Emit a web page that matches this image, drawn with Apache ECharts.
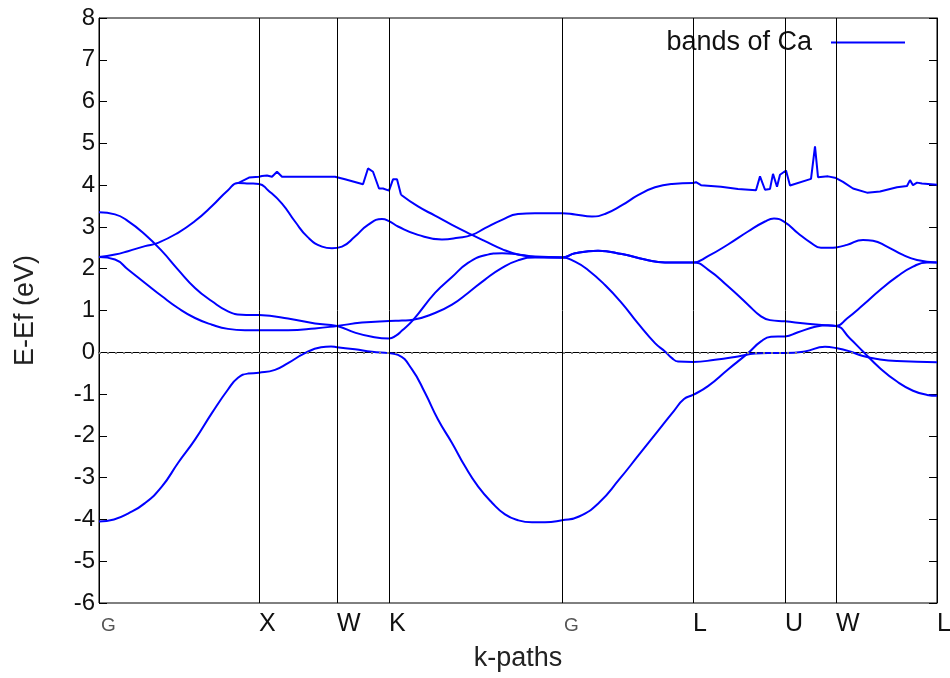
<!DOCTYPE html>
<html>
<head>
<meta charset="utf-8">
<script src="https://cdn.jsdelivr.net/npm/echarts@6/dist/echarts.min.js"></script>
<style>
html,body{margin:0;padding:0;background:#fff;overflow:hidden;}
#chart{width:950px;height:678px;}
</style>
</head>
<body>
<div id="chart"></div>
<script>
// high-symmetry points along the k-path (path-length units)
var kPos = [0, 160, 238, 290, 463, 594, 686, 737, 838];
var kLabels = ['G', 'X', 'W', 'K', 'G', 'L', 'U', 'W', 'L'];
var yTicks = [-6, -5, -4, -3, -2, -1, 0, 1, 2, 3, 4, 5, 6, 7, 8];

// band curves: [k, E-Ef (eV)]
var bandA = [[0,-4.05],[15,-4.0],[29,-3.86],[46,-3.61],[63,-3.21],[79,-2.65],[96,-2.09],[113,-1.45],[129,-0.89],[139,-0.61],[149,-0.51],[160,-0.49],
  [176,-0.42],[189,-0.26],[206,-0.02],[222,0.12],[232,0.14],[238,0.12],[256,0.07],[273,0.01],[290,-0.02],
  [299,-0.06],[313,-0.41],[326,-0.97],[339,-1.61],[353,-2.17],[366,-2.73],[379,-3.21],[393,-3.60],[406,-3.88],[419,-4.02],[433,-4.07],[446,-4.07],[463,-4.02],
  [480,-3.93],[500,-3.6],[520,-3.05],[540,-2.45],[560,-1.85],[575,-1.40],[585,-1.12],[594,-1.02],
  [609,-0.81],[629,-0.41],[649,-0.02],[662,0.26],[672,0.37],[686,0.38],[699,0.48],[716,0.61],[729,0.65],[737,0.63],
  [748,0.81],[764,1.13],[781,1.49],[798,1.81],[814,2.05],[828,2.15],[838,2.15]];

var bandB = [[0,2.28],[16,2.22],[29,1.98],[46,1.66],[63,1.34],[79,1.06],[96,0.82],[113,0.66],[129,0.56],[146,0.53],[160,0.53],
  [189,0.53],[216,0.57],[238,0.63],[263,0.71],[290,0.75],
  [303,0.76],[314,0.78],[336,0.94],[353,1.14],[369,1.42],[386,1.74],[403,2.02],[419,2.20],[436,2.27],[463,2.27],
  [476,2.17],[489,1.97],[506,1.61],[523,1.17],[539,0.69],[556,0.22],[566,0.02],[573,-0.14],[579,-0.22],[594,-0.23],
  [616,-0.18],[639,-0.10],[656,-0.03],[669,-0.02],[686,-0.02],[706,0.02],[726,0.13],[737,0.10],
  [751,0.02],[764,-0.09],[781,-0.17],[798,-0.21],[838,-0.24]];

var bandC = [[0,3.35],[16,3.30],[29,3.14],[46,2.82],[63,2.42],[79,1.98],[96,1.54],[113,1.22],[129,0.98],[143,0.90],[160,0.89],
  [189,0.81],[216,0.69],[238,0.63],[256,0.47],[273,0.37],[290,0.33],
  [297,0.40],[303,0.52],[314,0.77],[336,1.42],[353,1.80],[369,2.14],[386,2.32],[403,2.37],[419,2.34],[436,2.29],[463,2.27],
  [476,2.37],[499,2.43],[523,2.35],[546,2.22],[566,2.15],[594,2.15],
  [609,2.30],[629,2.58],[649,2.89],[666,3.13],[675,3.20],[686,3.11],[699,2.85],[712,2.62],[722,2.50],[731,2.50],[737,2.51],
  [748,2.57],[764,2.69],[774,2.67],[788,2.53],[804,2.33],[818,2.21],[838,2.15]];

var bandD = [[0,2.28],[16,2.34],[29,2.42],[46,2.54],[59,2.62],[79,2.86],[96,3.14],[113,3.50],[129,3.88],[139,4.05],[150,4.04],[160,4.03],
  [169,3.88],[183,3.56],[196,3.13],[209,2.75],[223,2.53],[233,2.49],[243,2.53],[256,2.77],[269,3.05],[283,3.19],[290,3.14],
  [299,3.01],[319,2.81],[343,2.70],[359,2.74],[373,2.81],[386,2.97],[403,3.17],[419,3.31],[436,3.33],[463,3.33],
  [476,3.30],[493,3.25],[506,3.31],[523,3.52],[539,3.76],[556,3.95],[573,4.03],[594,4.05]];

var bandTopL = [[594,4.05],[597,4.07],[602,4.00],[622,3.96],[639,3.91],[657,3.88],[661,4.21],[666,3.89],[671,3.91],[674,4.27],[678,3.96],[681,4.25],[687,4.35],[691,3.99],[712,4.15],[716,4.93],[719,4.19],[729,4.21],[737,4.17],
  [744,4.08],[754,3.92],[768,3.82],[781,3.85],[798,3.95],[808,3.98],[811,4.12],[814,4.00],[818,4.06],[823,4.04],[838,4.01]];

var bandTopX = [[139,4.05],[150,4.18],[160,4.20],[163,4.22],[168,4.23],[173,4.20],[178,4.32],[183,4.20],[236,4.20],[246,4.14],[264,4.02],[269,4.40],[274,4.32],[280,3.92],[284,3.92],[290,3.87],[294,4.14],[298,4.14],[302,3.77]];

var bandE = [[302,3.77],[319,3.49],[336,3.27],[353,3.05],[373,2.81],[386,2.66],[403,2.47],[419,2.34],[436,2.28],[463,2.27],
  [476,2.37],[499,2.43],[523,2.35],[546,2.22],[566,2.15],[594,2.15],
  [609,1.98],[629,1.58],[649,1.14],[662,0.86],[671,0.77],[686,0.74],[706,0.69],[729,0.64],[737,0.63],
  [751,0.33],[764,0.02],[781,-0.38],[798,-0.70],[814,-0.92],[828,-1.02],[838,-1.04]];

var smoothBands = [bandA, bandB, bandC, bandD, bandE];
var sharpBands = [bandTopL, bandTopX];

var NAME = 'bands of Ca';
var FONT = "'Liberation Sans', Arial, sans-serif";
var BLUE = '#0000ff';

var chart = echarts.init(document.getElementById('chart'), null, {renderer: 'canvas', width: 950, height: 678});

var series = [];
smoothBands.forEach(function (b) {
  series.push({name: NAME, type: 'line', data: b, symbol: 'none', showSymbol: false, smooth: 0.5,
    lineStyle: {color: BLUE, width: 2}, itemStyle: {color: BLUE}, z: 3, silent: true});
});
sharpBands.forEach(function (b) {
  series.push({name: NAME, type: 'line', data: b, symbol: 'none', showSymbol: false, smooth: false,
    lineStyle: {color: BLUE, width: 2}, itemStyle: {color: BLUE}, z: 3, silent: true});
});
// symmetry lines and Fermi level
series.push({type: 'line', data: [], silent: true,
  markLine: {silent: true, symbol: ['none', 'none'], label: {show: false}, animation: false,
    lineStyle: {color: '#000', width: 1, type: 'solid'},
    data: kPos.slice(1, kPos.length - 1).map(function (v) { return {xAxis: v}; })
      .concat([{yAxis: 0, lineStyle: {color: '#808080', width: 2, type: [2, 6]}}])
  }, z: 2});

chart.setOption({
  animation: false,
  backgroundColor: '#fff',
  grid: {left: 99, top: 18, width: 838, height: 585, show: true, borderColor: '#000', borderWidth: 1,
    containLabel: false, outerBoundsMode: 'none'},
  legend: {
    data: [{name: NAME, icon: 'rect'}], right: 40, top: 24, align: 'right', itemWidth: 74, itemHeight: 2,
    itemStyle: {color: BLUE},
    textStyle: {fontFamily: FONT, fontSize: 27, color: '#111', padding: [0, 14, 0, 0]},
    selectedMode: false
  },
  xAxis: {
    type: 'value', min: kPos[0], max: kPos[kPos.length - 1],
    name: 'k-paths', nameLocation: 'middle', nameGap: 42,
    nameTextStyle: {fontFamily: FONT, fontSize: 27, color: '#222'},
    axisLine: {show: true, lineStyle: {color: '#000', width: 1}},
    axisTick: {show: false},
    splitLine: {show: false},
    axisLabel: {
      customValues: kPos, showMinLabel: true, showMaxLabel: true, margin: 9, align: 'left',
      formatter: function (v) {
        var i = kPos.indexOf(v);
        var t = i >= 0 ? kLabels[i] : '';
        return t === 'G' ? '{g|G}' : '{n|' + t + '}';
      },
      rich: {
        g: {fontFamily: FONT, fontSize: 19, color: '#555', padding: [4, 0, 0, 2]},
        n: {fontFamily: FONT, fontSize: 25, color: '#111'}
      }
    }
  },
  yAxis: [{
    type: 'value', min: yTicks[0], max: yTicks[yTicks.length - 1], interval: 1,
    name: 'E-Ef (eV)', nameLocation: 'middle', nameGap: 60, nameRotate: 90,
    nameTextStyle: {fontFamily: FONT, fontSize: 27, color: '#222'},
    axisLine: {show: true, lineStyle: {color: '#000', width: 1}},
    axisTick: {show: true, inside: true, length: 8, lineStyle: {color: '#000'}},
    splitLine: {show: false},
    axisLabel: {fontFamily: FONT, fontSize: 24, color: '#111', margin: 4}
  }, {
    type: 'value', min: yTicks[0], max: yTicks[yTicks.length - 1], interval: 1, position: 'right',
    axisLine: {show: true, lineStyle: {color: '#000', width: 1}},
    axisTick: {show: true, inside: true, length: 8, lineStyle: {color: '#000'}},
    splitLine: {show: false},
    axisLabel: {show: false}
  }],
  series: series
});
</script>
</body>
</html>
